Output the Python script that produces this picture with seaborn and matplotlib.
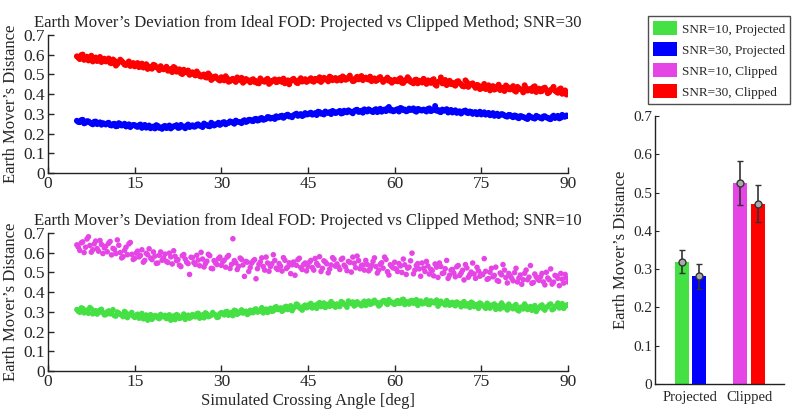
import numpy as np
import pandas as pd
import matplotlib
matplotlib.use("Agg")
import matplotlib.pyplot as plt
from matplotlib.patches import Patch
import seaborn as sns

# ---------------- data ----------------
# run "a": angles 5.0 .. 90.0 ; run "b": angles 5.25 .. 89.75
angles_a = (5.0, 90.0)
angles_b = (5.25, 89.75)

snr30_clipped_a = [
    0.592, 0.578, 0.601, 0.583, 0.571, 0.595, 0.580, 0.568, 0.589, 0.575,
    0.566, 0.581, 0.557, 0.570, 0.553, 0.575, 0.560, 0.548, 0.566, 0.552,
    0.541, 0.558, 0.546, 0.535, 0.552, 0.540, 0.529, 0.546, 0.534, 0.542,
    0.526, 0.539, 0.521, 0.512, 0.533, 0.517, 0.506, 0.524, 0.510, 0.498,
    0.511, 0.495, 0.505, 0.489, 0.500, 0.484, 0.496, 0.478, 0.490, 0.474,
    0.486, 0.470, 0.481, 0.466, 0.478, 0.462, 0.475, 0.483, 0.465, 0.472,
    0.460, 0.476, 0.467, 0.455, 0.471, 0.463, 0.478, 0.458, 0.469, 0.461,
    0.474, 0.462, 0.455, 0.470, 0.466, 0.478, 0.459, 0.472, 0.464, 0.476,
    0.467, 0.481, 0.463, 0.474, 0.486, 0.470, 0.479, 0.465, 0.484, 0.476,
    0.469, 0.482, 0.490, 0.473, 0.485, 0.477, 0.468, 0.488, 0.479, 0.471,
    0.484, 0.474, 0.466, 0.480, 0.471, 0.487, 0.462, 0.476, 0.468, 0.458,
    0.473, 0.465, 0.481, 0.457, 0.469, 0.477, 0.460, 0.472, 0.455, 0.466,
    0.478, 0.452, 0.464, 0.471, 0.449, 0.462, 0.485, 0.455, 0.446, 0.468,
    0.458, 0.443, 0.466, 0.450, 0.439, 0.461, 0.447, 0.455, 0.432, 0.444,
    0.429, 0.452, 0.436, 0.419, 0.441, 0.427, 0.448, 0.433, 0.416, 0.438,
    0.424, 0.441, 0.413, 0.430, 0.422, 0.445, 0.418, 0.427, 0.436, 0.411,
    0.428, 0.416, 0.433, 0.405, 0.421, 0.437, 0.412, 0.424, 0.402, 0.419,
    0.408,
]
snr30_clipped_b = [
    0.585, 0.598, 0.574, 0.590, 0.579, 0.566, 0.586, 0.572, 0.563, 0.580,
    0.571, 0.559, 0.576, 0.545, 0.563, 0.568, 0.550, 0.557, 0.543, 0.558,
    0.550, 0.537, 0.555, 0.543, 0.528, 0.538, 0.549, 0.536, 0.522, 0.531,
    0.532, 0.519, 0.528, 0.538, 0.514, 0.526, 0.502, 0.515, 0.520, 0.505,
    0.501, 0.515, 0.492, 0.497, 0.486, 0.505, 0.472, 0.488, 0.481, 0.469,
    0.478, 0.491, 0.463, 0.474, 0.469, 0.485, 0.471, 0.458, 0.477, 0.468,
    0.472, 0.462, 0.456, 0.480, 0.466, 0.473, 0.452, 0.468, 0.475, 0.463,
    0.468, 0.479, 0.461, 0.450, 0.473, 0.469, 0.456, 0.481, 0.470, 0.462,
    0.475, 0.466, 0.478, 0.470, 0.462, 0.483, 0.473, 0.489, 0.471, 0.482,
    0.478, 0.470, 0.484, 0.476, 0.494, 0.466, 0.481, 0.475, 0.492, 0.480,
    0.476, 0.489, 0.472, 0.467, 0.482, 0.475, 0.469, 0.484, 0.473, 0.465,
    0.467, 0.476, 0.458, 0.471, 0.486, 0.463, 0.455, 0.474, 0.468, 0.459,
    0.461, 0.470, 0.457, 0.476, 0.443, 0.466, 0.455, 0.472, 0.460, 0.451,
    0.448, 0.463, 0.456, 0.441, 0.470, 0.437, 0.452, 0.442, 0.447, 0.426,
    0.440, 0.426, 0.445, 0.432, 0.423, 0.439, 0.421, 0.430, 0.444, 0.425,
    0.432, 0.418, 0.437, 0.425, 0.409, 0.431, 0.423, 0.416, 0.440, 0.420,
    0.414, 0.430, 0.422, 0.410, 0.426, 0.418, 0.407, 0.429, 0.415, 0.398,
]

snr30_projected_a = [
    0.265, 0.258, 0.270, 0.255, 0.262, 0.251, 0.260, 0.248, 0.257, 0.253,
    0.246, 0.255, 0.241, 0.250, 0.238, 0.249, 0.244, 0.236, 0.247, 0.240,
    0.243, 0.234, 0.246, 0.238, 0.230, 0.241, 0.233, 0.226, 0.239, 0.231,
    0.236, 0.228, 0.241, 0.232, 0.238, 0.229, 0.244, 0.235, 0.240, 0.233,
    0.242, 0.236, 0.247, 0.239, 0.251, 0.243, 0.237, 0.250, 0.245, 0.255,
    0.249, 0.258, 0.252, 0.262, 0.255, 0.266, 0.259, 0.253, 0.268, 0.262,
    0.270, 0.263, 0.275, 0.268, 0.279, 0.272, 0.284, 0.276, 0.281, 0.288,
    0.283, 0.291, 0.286, 0.296, 0.289, 0.293, 0.301, 0.295, 0.289, 0.304,
    0.298, 0.306, 0.300, 0.294, 0.309, 0.303, 0.312, 0.305, 0.299, 0.311,
    0.307, 0.315, 0.304, 0.311, 0.318, 0.309, 0.314, 0.321, 0.312, 0.306,
    0.317, 0.323, 0.313, 0.320, 0.309, 0.326, 0.318, 0.314, 0.335, 0.321,
    0.316, 0.324, 0.330, 0.319, 0.313, 0.327, 0.321, 0.315, 0.325, 0.318,
    0.322, 0.312, 0.328, 0.317, 0.340, 0.320, 0.309, 0.316, 0.324, 0.313,
    0.307, 0.318, 0.311, 0.302, 0.315, 0.306, 0.312, 0.300, 0.309, 0.303,
    0.297, 0.308, 0.301, 0.293, 0.304, 0.296, 0.289, 0.299, 0.292, 0.286,
    0.294, 0.283, 0.290, 0.278, 0.287, 0.281, 0.274, 0.285, 0.279, 0.290,
    0.283, 0.276, 0.288, 0.280, 0.273, 0.291, 0.284, 0.277, 0.295, 0.286,
    0.289,
]
snr30_projected_b = [
    0.259, 0.268, 0.252, 0.263, 0.256, 0.247, 0.261, 0.254, 0.245, 0.250,
    0.252, 0.243, 0.248, 0.237, 0.253, 0.241, 0.250, 0.239, 0.233, 0.244,
    0.237, 0.242, 0.229, 0.244, 0.235, 0.227, 0.236, 0.243, 0.229, 0.224,
    0.239, 0.231, 0.226, 0.237, 0.243, 0.230, 0.236, 0.227, 0.246, 0.238,
    0.235, 0.245, 0.240, 0.233, 0.246, 0.238, 0.255, 0.241, 0.249, 0.244,
    0.256, 0.247, 0.254, 0.259, 0.250, 0.261, 0.257, 0.264, 0.259, 0.270,
    0.265, 0.273, 0.266, 0.277, 0.270, 0.275, 0.283, 0.279, 0.274, 0.282,
    0.289, 0.280, 0.293, 0.287, 0.283, 0.297, 0.290, 0.299, 0.293, 0.297,
    0.303, 0.296, 0.304, 0.311, 0.301, 0.297, 0.306, 0.309, 0.315, 0.304,
    0.311, 0.302, 0.316, 0.308, 0.313, 0.303, 0.319, 0.310, 0.316, 0.323,
    0.312, 0.318, 0.309, 0.324, 0.316, 0.311, 0.322, 0.328, 0.317, 0.313,
    0.321, 0.312, 0.327, 0.322, 0.316, 0.320, 0.328, 0.311, 0.323, 0.317,
    0.318, 0.325, 0.314, 0.321, 0.316, 0.311, 0.322, 0.318, 0.307, 0.320,
    0.314, 0.305, 0.313, 0.308, 0.317, 0.304, 0.310, 0.307, 0.298, 0.311,
    0.302, 0.296, 0.305, 0.298, 0.290, 0.301, 0.294, 0.297, 0.288, 0.295,
    0.287, 0.292, 0.281, 0.289, 0.284, 0.277, 0.291, 0.282, 0.276, 0.286,
    0.279, 0.287, 0.282, 0.275, 0.285, 0.279, 0.290, 0.281, 0.286, 0.292,
]

snr10_projected_a = [
    0.312, 0.298, 0.318, 0.304, 0.293, 0.315, 0.301, 0.289, 0.309, 0.297,
    0.286, 0.305, 0.292, 0.281, 0.299, 0.288, 0.276, 0.295, 0.283, 0.297,
    0.272, 0.288, 0.279, 0.265, 0.284, 0.275, 0.262, 0.281, 0.270, 0.287,
    0.276, 0.266, 0.285, 0.273, 0.261, 0.282, 0.270, 0.289, 0.278, 0.268,
    0.286, 0.275, 0.293, 0.281, 0.270, 0.290, 0.279, 0.297, 0.284, 0.274,
    0.296, 0.285, 0.302, 0.290, 0.281, 0.305, 0.293, 0.310, 0.298, 0.287,
    0.308, 0.296, 0.315, 0.302, 0.321, 0.309, 0.297, 0.318, 0.305, 0.326,
    0.314, 0.303, 0.325, 0.312, 0.331, 0.319, 0.340, 0.322, 0.309, 0.334,
    0.325, 0.343, 0.330, 0.318, 0.347, 0.334, 0.322, 0.339, 0.352, 0.331,
    0.340, 0.327, 0.348, 0.335, 0.355, 0.342, 0.330, 0.351, 0.338, 0.346,
    0.333, 0.355, 0.341, 0.359, 0.347, 0.336, 0.356, 0.344, 0.362, 0.349,
    0.338, 0.357, 0.345, 0.364, 0.351, 0.340, 0.358, 0.346, 0.333, 0.355,
    0.343, 0.361, 0.337, 0.352, 0.346, 0.329, 0.354, 0.341, 0.357, 0.334,
    0.348, 0.331, 0.344, 0.326, 0.352, 0.338, 0.323, 0.345, 0.333, 0.318,
    0.340, 0.327, 0.344, 0.319, 0.336, 0.313, 0.331, 0.345, 0.322, 0.310,
    0.328, 0.316, 0.337, 0.305, 0.324, 0.340, 0.312, 0.327, 0.318, 0.302,
    0.322, 0.335, 0.309, 0.326, 0.340, 0.315, 0.331, 0.320, 0.342, 0.328,
    0.336,
]
snr10_projected_b = [
    0.303, 0.320, 0.295, 0.309, 0.322, 0.290, 0.306, 0.296, 0.313, 0.285,
    0.300, 0.290, 0.311, 0.279, 0.293, 0.284, 0.302, 0.271, 0.289, 0.278,
    0.283, 0.268, 0.292, 0.277, 0.258, 0.286, 0.271, 0.279, 0.266, 0.276,
    0.282, 0.270, 0.258, 0.279, 0.286, 0.267, 0.275, 0.262, 0.283, 0.273,
    0.279, 0.290, 0.268, 0.285, 0.295, 0.276, 0.283, 0.288, 0.272, 0.291,
    0.290, 0.300, 0.283, 0.297, 0.308, 0.288, 0.301, 0.294, 0.303, 0.292,
    0.301, 0.312, 0.299, 0.309, 0.295, 0.314, 0.310, 0.303, 0.322, 0.312,
    0.320, 0.309, 0.328, 0.317, 0.306, 0.326, 0.335, 0.316, 0.329, 0.321,
    0.338, 0.320, 0.334, 0.341, 0.327, 0.345, 0.336, 0.328, 0.343, 0.324,
    0.333, 0.352, 0.339, 0.324, 0.345, 0.350, 0.336, 0.343, 0.331, 0.354,
    0.347, 0.339, 0.352, 0.345, 0.330, 0.350, 0.357, 0.338, 0.351, 0.342,
    0.352, 0.343, 0.361, 0.337, 0.349, 0.356, 0.344, 0.362, 0.350, 0.341,
    0.350, 0.339, 0.356, 0.347, 0.360, 0.340, 0.345, 0.335, 0.349, 0.343,
    0.336, 0.350, 0.339, 0.345, 0.330, 0.341, 0.349, 0.327, 0.338, 0.345,
    0.331, 0.318, 0.337, 0.326, 0.340, 0.323, 0.315, 0.334, 0.327, 0.339,
    0.320, 0.331, 0.310, 0.323, 0.315, 0.329, 0.320, 0.308, 0.332, 0.315,
    0.330, 0.316, 0.324, 0.336, 0.311, 0.328, 0.345, 0.323, 0.318, 0.334,
]

snr10_clipped_a = [
    0.640, 0.612, 0.655, 0.628, 0.681, 0.603, 0.645, 0.621, 0.662, 0.596,
    0.633, 0.648, 0.589, 0.617, 0.665, 0.601, 0.580, 0.628, 0.645, 0.592,
    0.571, 0.608, 0.586, 0.552, 0.597, 0.620, 0.565, 0.583, 0.548, 0.604,
    0.574, 0.556, 0.598, 0.543, 0.582, 0.565, 0.530, 0.591, 0.552, 0.490,
    0.575, 0.541, 0.563, 0.602, 0.528, 0.557, 0.585, 0.519, 0.548, 0.570,
    0.536, 0.562, 0.578, 0.520, 0.671, 0.549, 0.531, 0.566, 0.480, 0.552,
    0.525, 0.558, 0.468, 0.541, 0.574, 0.512, 0.548, 0.530, 0.590, 0.522,
    0.545, 0.507, 0.562, 0.528, 0.494, 0.553, 0.536, 0.572, 0.515, 0.548,
    0.530, 0.561, 0.512, 0.546, 0.580, 0.521, 0.553, 0.498, 0.538, 0.567,
    0.543, 0.515, 0.572, 0.528, 0.556, 0.502, 0.547, 0.583, 0.519, 0.538,
    0.561, 0.508, 0.535, 0.574, 0.497, 0.541, 0.522, 0.566, 0.487, 0.530,
    0.552, 0.505, 0.533, 0.568, 0.490, 0.527, 0.598, 0.512, 0.545, 0.481,
    0.521, 0.556, 0.492, 0.509, 0.543, 0.475, 0.530, 0.498, 0.561, 0.486,
    0.515, 0.478, 0.535, 0.497, 0.462, 0.523, 0.489, 0.548, 0.470, 0.508,
    0.492, 0.570, 0.465, 0.501, 0.478, 0.527, 0.455, 0.488, 0.512, 0.447,
    0.483, 0.458, 0.521, 0.472, 0.440, 0.496, 0.463, 0.535, 0.449, 0.478,
    0.460, 0.495, 0.437, 0.472, 0.518, 0.451, 0.482, 0.433, 0.466, 0.490,
    0.452,
]
snr10_clipped_b = [
    0.628, 0.650, 0.601, 0.670, 0.637, 0.615, 0.659, 0.608, 0.642, 0.625,
    0.605, 0.657, 0.622, 0.596, 0.638, 0.574, 0.612, 0.590, 0.652, 0.566,
    0.598, 0.579, 0.615, 0.561, 0.590, 0.573, 0.604, 0.546, 0.587, 0.562,
    0.593, 0.551, 0.579, 0.610, 0.560, 0.537, 0.585, 0.568, 0.545, 0.577,
    0.550, 0.587, 0.534, 0.568, 0.545, 0.592, 0.521, 0.560, 0.540, 0.578,
    0.555, 0.527, 0.586, 0.541, 0.560, 0.515, 0.573, 0.538, 0.556, 0.505,
    0.547, 0.565, 0.519, 0.553, 0.530, 0.578, 0.506, 0.544, 0.561, 0.515,
    0.532, 0.575, 0.520, 0.549, 0.539, 0.486, 0.565, 0.525, 0.541, 0.508,
    0.552, 0.525, 0.571, 0.536, 0.505, 0.559, 0.544, 0.517, 0.575, 0.532,
    0.529, 0.566, 0.537, 0.509, 0.551, 0.578, 0.524, 0.560, 0.535, 0.512,
    0.540, 0.518, 0.556, 0.530, 0.512, 0.549, 0.578, 0.504, 0.539, 0.523,
    0.518, 0.545, 0.500, 0.539, 0.522, 0.559, 0.493, 0.536, 0.518, 0.548,
    0.505, 0.533, 0.516, 0.483, 0.527, 0.548, 0.495, 0.519, 0.470, 0.512,
    0.497, 0.529, 0.485, 0.511, 0.540, 0.476, 0.502, 0.492, 0.526, 0.481,
    0.489, 0.506, 0.469, 0.521, 0.485, 0.459, 0.497, 0.540, 0.474, 0.495,
    0.471, 0.499, 0.452, 0.487, 0.463, 0.512, 0.476, 0.445, 0.492, 0.466,
    0.478, 0.452, 0.501, 0.463, 0.441, 0.485, 0.470, 0.495, 0.446, 0.472,
]

bar_methods = ["Projected", "Projected", "Clipped", "Clipped"]
bar_snr = ["SNR=10", "SNR=30", "SNR=10", "SNR=30"]
bar_means = [0.320, 0.281, 0.525, 0.471]
bar_errs = [0.030, 0.032, 0.057, 0.049]

legend_labels = ["SNR=10, Projected", "SNR=30, Projected",
                 "SNR=10, Clipped", "SNR=30, Clipped"]

x_ticks = [0, 15, 30, 45, 60, 75, 90]
y_ticks = [0, 0.1, 0.2, 0.3, 0.4, 0.5, 0.6, 0.7]
y_ticklabels = ["0", "0.1", "0.2", "0.3", "0.4", "0.5", "0.6", "0.7"]

col_green = "#44e044"
col_blue = "#0000ff"
col_magenta = "#e545e5"
col_red = "#ff0000"

# ---------------- style ----------------
sns.set_style("ticks")
plt.rcParams["font.family"] = ["Liberation Serif", "DejaVu Serif"]
plt.rcParams["xtick.direction"] = "in"
plt.rcParams["ytick.direction"] = "in"
plt.rcParams["axes.linewidth"] = 1.0
plt.rcParams["axes.edgecolor"] = "#222222"

fig = plt.figure(figsize=(8.0, 4.18), dpi=100)
ax_top = fig.add_axes([0.06, 0.5861, 0.65, 0.3301])
ax_bot = fig.add_axes([0.06, 0.1124, 0.65, 0.3301])
ax_bar = fig.add_axes([0.81875, 0.0813, 0.16125, 0.6411])


def long_frame(series):
    frames = []
    for name, runs in series:
        for (a0, a1), vals in runs:
            frames.append(pd.DataFrame({
                "angle": np.linspace(a0, a1, len(vals)),
                "emd": vals,
                "series": name,
            }))
    return pd.concat(frames, ignore_index=True)


top_df = long_frame([
    ("SNR=30, Clipped", [(angles_a, snr30_clipped_a), (angles_b, snr30_clipped_b)]),
    ("SNR=30, Projected", [(angles_a, snr30_projected_a), (angles_b, snr30_projected_b)]),
])
bot_df = long_frame([
    ("SNR=10, Clipped", [(angles_a, snr10_clipped_a), (angles_b, snr10_clipped_b)]),
    ("SNR=10, Projected", [(angles_a, snr10_projected_a), (angles_b, snr10_projected_b)]),
])

sns.scatterplot(data=top_df, x="angle", y="emd", hue="series",
                palette={"SNR=30, Clipped": col_red, "SNR=30, Projected": col_blue},
                s=18, linewidth=0, legend=False, ax=ax_top)
sns.scatterplot(data=bot_df, x="angle", y="emd", hue="series",
                palette={"SNR=10, Clipped": col_magenta, "SNR=10, Projected": col_green},
                s=16, linewidth=0, legend=False, ax=ax_bot)

titles = ["Earth Mover\u2019s Deviation from Ideal FOD: Projected vs Clipped Method; SNR=30",
          "Earth Mover\u2019s Deviation from Ideal FOD: Projected vs Clipped Method; SNR=10"]
for ax, title in zip([ax_top, ax_bot], titles):
    ax.set_xlim(0, 90)
    ax.set_ylim(0, 0.7)
    ax.set_xticks(x_ticks)
    ax.set_xticklabels([str(t) for t in x_ticks])
    ax.set_yticks(y_ticks)
    ax.set_yticklabels(y_ticklabels)
    ax.tick_params(labelsize=12.5, length=4, width=1, pad=2)
    ax.set_title(title, fontsize=12, pad=6)
    ax.set_ylabel("Earth Mover\u2019s Distance", fontsize=12, labelpad=3)
    ax.set_xlabel("")
    sns.despine(ax=ax)
ax_bot.set_xlabel("Simulated Crossing Angle [deg]", fontsize=12, labelpad=2)

# ---------------- bar chart ----------------
bar_df = pd.DataFrame({"method": bar_methods, "snr": bar_snr, "emd": bar_means})
sns.barplot(data=bar_df, x="method", y="emd", hue="snr",
            order=["Projected", "Clipped"], hue_order=["SNR=10", "SNR=30"],
            width=0.59, gap=0.18, errorbar=None, legend=False,
            palette=["#888888", "#444444"], ax=ax_bar)

bar_colors = [col_green, col_blue, col_magenta, col_red]
patches = sorted([p for p in ax_bar.patches if p.get_height() > 0],
                 key=lambda p: p.get_x())
centers = []
for p, c in zip(patches, bar_colors):
    p.set_facecolor(c)
    p.set_edgecolor("none")
    centers.append(p.get_x() + p.get_width() / 2)

ax_bar.errorbar(centers, bar_means, yerr=bar_errs, fmt="o", color="#333333",
                ecolor="#333333", elinewidth=1.2, capsize=2, capthick=1,
                markersize=5, markerfacecolor="#aaaaaa", markeredgecolor="#333333",
                markeredgewidth=1)

ax_bar.set_xlim(-0.607, 1.598)
ax_bar.set_ylim(0, 0.7)
ax_bar.set_yticks(y_ticks)
ax_bar.set_yticklabels(y_ticklabels)
ax_bar.tick_params(axis="y", labelsize=11, length=3, pad=2)
ax_bar.tick_params(axis="x", labelsize=10.5, length=0, pad=5)
ax_bar.set_xlabel("")
ax_bar.set_ylabel("Earth Mover\u2019s Distance", fontsize=12, labelpad=3)
sns.despine(ax=ax_bar)

handles = [Patch(facecolor=c, edgecolor="none") for c in bar_colors]
leg = fig.legend(handles, legend_labels, loc="upper left",
                 bbox_to_anchor=(648 / 800, 1 - 16 / 418),
                 fontsize=9.5, frameon=True, fancybox=False,
                 edgecolor="#222222", handlelength=1.8, handleheight=1.25,
                 handletextpad=0.35, labelspacing=0.5, borderpad=0.4,
                 borderaxespad=0)
leg.get_frame().set_linewidth(1.0)

fig.savefig("out.png", dpi=100)
